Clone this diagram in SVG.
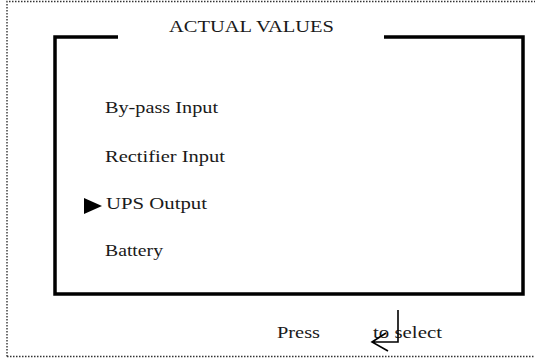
<svg xmlns="http://www.w3.org/2000/svg" width="535" height="358" viewBox="0 0 535 358">
<style>
.t{font-family:"Liberation Serif","Times New Roman",serif;font-size:17.5px;fill:#1a1a1a}
.frame{fill:none;stroke:#000;stroke-width:3.5;stroke-linejoin:miter}
.dot{fill:none;stroke:#333;stroke-width:1.4;stroke-dasharray:1.5 1.5}
.arr{fill:none;stroke:#000;stroke-width:1.6}
</style>
<rect width="535" height="358" fill="#fff"/>
<g id="outer-border">
<path class="dot" d="M7,356.5 L7,1.5 L537,1.5 M7,356.5 L537,356.5"/>
</g>
<g id="screen">
<path class="frame" d="M118,37 L55,37 L55,294 L523,294 L523,37 L384,37"/>
<text class="t" x="169" y="32" textLength="165" lengthAdjust="spacingAndGlyphs">ACTUAL VALUES</text>
</g>
<g id="item-bypass"><text class="t" x="105" y="113" textLength="113" lengthAdjust="spacingAndGlyphs">By-pass Input</text></g>
<g id="item-rectifier"><text class="t" x="105" y="162" textLength="120" lengthAdjust="spacingAndGlyphs">Rectifier Input</text></g>
<g id="item-ups">
<polygon points="84,198 102,206 84,214" fill="#000"/>
<text class="t" x="106" y="209" textLength="101" lengthAdjust="spacingAndGlyphs">UPS Output</text>
</g>
<g id="item-battery"><text class="t" x="105" y="256" textLength="58" lengthAdjust="spacingAndGlyphs">Battery</text></g>
<g id="footer">
<text class="t" x="277" y="338" textLength="43" lengthAdjust="spacingAndGlyphs">Press</text>
<text class="t" x="373" y="338" textLength="69" lengthAdjust="spacingAndGlyphs">to select</text>
</g>
<g id="connectors">
<path class="arr" d="M398,310 L398,342 L372,342 M386,333 L372,342 L388,351"/>
</g>
</svg>
